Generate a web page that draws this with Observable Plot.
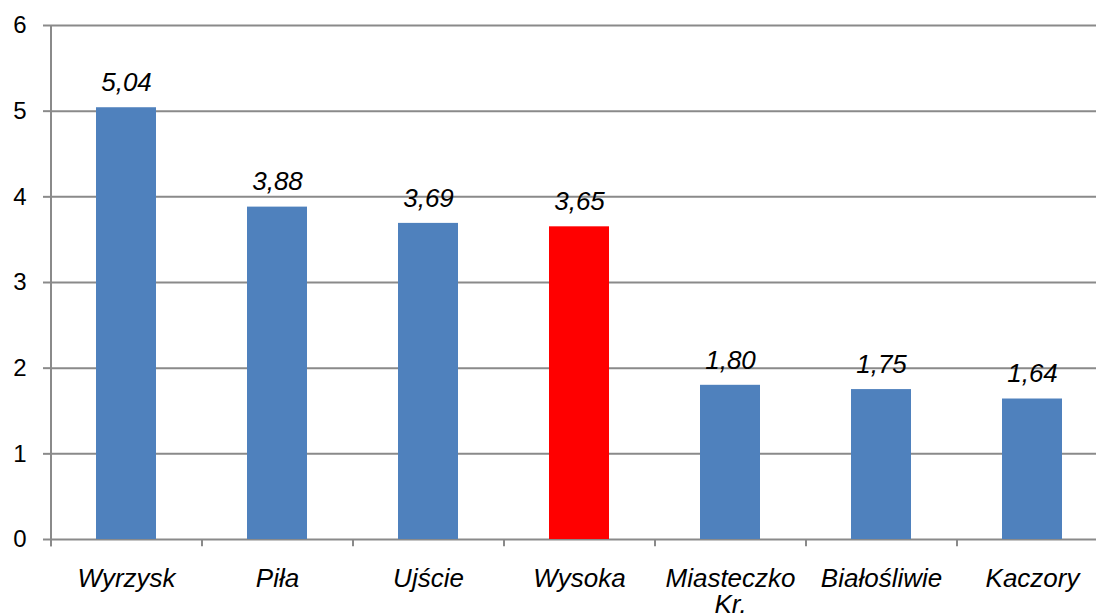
<!DOCTYPE html>
<html>
<head>
<meta charset="utf-8">
<script src="https://cdn.jsdelivr.net/npm/d3@7"></script>
<script src="https://cdn.jsdelivr.net/npm/@observablehq/plot@0.6"></script>
<style>
  html, body { margin: 0; padding: 0; background: #fff; }
  #chart svg { display: block; }
</style>
</head>
<body>
<div id="chart"></div>
<script>
const categories = ["Wyrzysk", "Piła", "Ujście", "Wysoka", "Miasteczko Kr.", "Białośliwie", "Kaczory"];
const values = [5.04, 3.88, 3.69, 3.65, 1.80, 1.75, 1.64];
const highlighted = ["Wysoka"];
const yTicks = [0, 1, 2, 3, 4, 5, 6];

const data = categories.map((c, i) => ({category: c, value: values[i]}));
const gridColor = "#8a8a8a";
const halfBand = 75.5;

const chart = Plot.plot({
  width: 1096,
  height: 616,
  marginLeft: 51,
  marginRight: 0,
  marginTop: 25,
  marginBottom: 77,
  style: {fontFamily: "'Liberation Sans', Arial, sans-serif", fontSize: "26px", color: "black", background: "white"},
  x: {domain: categories, range: [51, 1108], paddingInner: 0.6, paddingOuter: 0.3, align: 0.5},
  y: {domain: [0, 6], ticks: yTicks},
  marks: [
    Plot.ruleY(yTicks, {stroke: gridColor, strokeWidth: 2}),
    Plot.barY(data, {
      x: "category", y: "value",
      fill: d => highlighted.includes(d.category) ? "#ff0000" : "#4f81bd"
    }),
    Plot.text(data, {
      x: "category", y: "value",
      text: d => d.value.toFixed(2).replace(".", ","),
      dy: -25, fontStyle: "italic", fontSize: 26, fill: "black"
    }),
    Plot.ruleX(categories, {x: d => d, dx: -halfBand, y1: 0, y2: -0.085, stroke: gridColor, strokeWidth: 2}),
    Plot.ruleX(categories.slice(0, 1), {x: d => d, dx: -halfBand, y1: -0.085, y2: 6, stroke: gridColor, strokeWidth: 2}),
    Plot.axisY({ticks: yTicks, tickSize: 8, tickPadding: 17, stroke: gridColor, strokeWidth: 2, fill: "black",
      fontSize: 24, label: null, tickFormat: d => String(d)}),
    Plot.axisX({tickSize: 0, tickPadding: 29, fontStyle: "italic", fontSize: 26, fill: "black", label: null,
      tickFormat: d => d.replace(" ", "\n"), lineHeight: 1.0})
  ]
});
document.getElementById("chart").appendChild(chart);
</script>
</body>
</html>
